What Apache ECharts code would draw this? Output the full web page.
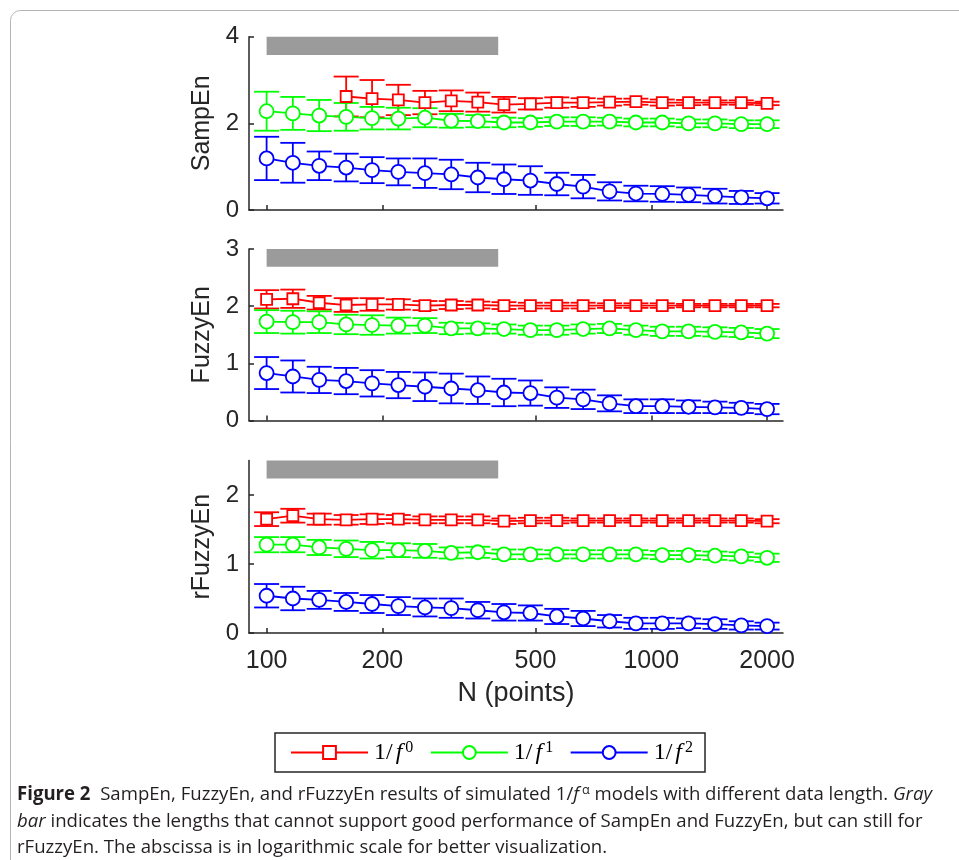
<!DOCTYPE html>
<html><head><meta charset="utf-8">
<script src="https://cdn.jsdelivr.net/npm/echarts@6/dist/echarts.min.js"></script>
<style>html,body{margin:0;padding:0;background:#fff;}#c{width:959px;height:860px;}</style>
</head><body><div id="c"></div>
<script>
// ---------- data ----------
const N = [100, 117, 137, 161, 188, 220, 258, 302, 354, 414, 485, 568, 665, 779, 912, 1068, 1250, 1464, 1714, 2000];
const xTickValues = [100, 200, 500, 1000, 2000];
const grayBarX = [100, 400];
const panelNames = ['SampEn', 'FuzzyEn', 'rFuzzyEn'];
const panelYMax = [4, 3, 2.5];
const panelYInterval = [2, 1, 1];
const panelYTicks = [[0, 2, 4], [0, 1, 2, 3], [0, 1, 2]];
const grayBarY = [[3.58, 4.0], [2.69, 3.0], [2.24, 2.5]];

// SampEn
const sampRed      = [null, null, null, 2.62, 2.57, 2.54, 2.48, 2.52, 2.49, 2.43, 2.45, 2.48, 2.48, 2.49, 2.50, 2.48, 2.48, 2.48, 2.48, 2.46];
const sampRedErr   = [null, null, null, 0.46, 0.43, 0.35, 0.27, 0.24, 0.22, 0.18, 0.13, 0.12, 0.10, 0.08, 0.07, 0.07, 0.06, 0.05, 0.05, 0.04];
const sampGreen    = [2.28, 2.23, 2.18, 2.15, 2.12, 2.11, 2.13, 2.06, 2.05, 2.02, 2.02, 2.04, 2.04, 2.04, 2.02, 2.02, 2.00, 2.00, 1.98, 1.98];
const sampGreenErr = [0.45, 0.38, 0.36, 0.32, 0.26, 0.25, 0.22, 0.16, 0.14, 0.11, 0.10, 0.10, 0.10, 0.09, 0.09, 0.09, 0.09, 0.09, 0.09, 0.09];
const sampBlue     = [1.19, 1.09, 1.02, 0.98, 0.92, 0.88, 0.85, 0.82, 0.75, 0.71, 0.68, 0.60, 0.54, 0.43, 0.38, 0.37, 0.35, 0.32, 0.29, 0.27];
const sampBlueErr  = [0.50, 0.46, 0.33, 0.32, 0.30, 0.31, 0.34, 0.34, 0.34, 0.34, 0.33, 0.26, 0.27, 0.21, 0.18, 0.18, 0.17, 0.17, 0.15, 0.12];
// FuzzyEn
const fuzzyRed      = [2.12, 2.13, 2.06, 2.02, 2.03, 2.03, 2.01, 2.02, 2.02, 2.01, 2.01, 2.01, 2.01, 2.01, 2.01, 2.01, 2.01, 2.01, 2.01, 2.01];
const fuzzyRedErr   = [0.16, 0.16, 0.12, 0.12, 0.11, 0.09, 0.08, 0.07, 0.06, 0.06, 0.05, 0.05, 0.05, 0.04, 0.04, 0.04, 0.03, 0.03, 0.03, 0.03];
const fuzzyGreen    = [1.73, 1.72, 1.72, 1.68, 1.67, 1.66, 1.66, 1.61, 1.61, 1.60, 1.58, 1.58, 1.60, 1.61, 1.58, 1.56, 1.56, 1.55, 1.54, 1.52];
const fuzzyGreenErr = [0.20, 0.20, 0.19, 0.17, 0.17, 0.14, 0.13, 0.10, 0.09, 0.08, 0.08, 0.08, 0.08, 0.08, 0.08, 0.08, 0.08, 0.08, 0.08, 0.08];
const fuzzyBlue     = [0.83, 0.77, 0.71, 0.69, 0.65, 0.62, 0.59, 0.56, 0.53, 0.49, 0.48, 0.40, 0.37, 0.30, 0.25, 0.25, 0.24, 0.23, 0.22, 0.20];
const fuzzyBlueErr  = [0.28, 0.28, 0.23, 0.23, 0.23, 0.23, 0.25, 0.26, 0.24, 0.24, 0.22, 0.18, 0.17, 0.14, 0.12, 0.12, 0.11, 0.10, 0.09, 0.09];
// rFuzzyEn
const rfuzzyRed      = [1.65, 1.70, 1.65, 1.64, 1.65, 1.65, 1.64, 1.64, 1.64, 1.62, 1.63, 1.63, 1.63, 1.63, 1.63, 1.63, 1.63, 1.63, 1.63, 1.62];
const rfuzzyRedErr   = [0.10, 0.10, 0.08, 0.07, 0.07, 0.06, 0.05, 0.05, 0.05, 0.04, 0.04, 0.04, 0.03, 0.03, 0.03, 0.03, 0.03, 0.03, 0.03, 0.03];
const rfuzzyGreen    = [1.28, 1.28, 1.24, 1.22, 1.20, 1.20, 1.19, 1.16, 1.17, 1.14, 1.14, 1.14, 1.14, 1.14, 1.14, 1.13, 1.13, 1.12, 1.11, 1.09];
const rfuzzyGreenErr = [0.11, 0.11, 0.11, 0.12, 0.12, 0.10, 0.10, 0.08, 0.08, 0.07, 0.07, 0.06, 0.06, 0.06, 0.06, 0.06, 0.06, 0.06, 0.06, 0.06];
const rfuzzyBlue     = [0.54, 0.50, 0.48, 0.45, 0.42, 0.39, 0.37, 0.36, 0.33, 0.30, 0.29, 0.24, 0.21, 0.17, 0.14, 0.14, 0.14, 0.13, 0.11, 0.10];
const rfuzzyBlueErr  = [0.17, 0.17, 0.13, 0.13, 0.13, 0.13, 0.13, 0.14, 0.12, 0.12, 0.11, 0.11, 0.11, 0.09, 0.08, 0.08, 0.07, 0.07, 0.06, 0.05];

const seriesNames = ['f0', 'f1', 'f2'];
const seriesColors = ['#ff0000', '#00ff00', '#0000ff'];
const seriesSymbols = ['rect', 'circle', 'circle'];
const panelData = [
  [[sampRed, sampRedErr], [sampGreen, sampGreenErr], [sampBlue, sampBlueErr]],
  [[fuzzyRed, fuzzyRedErr], [fuzzyGreen, fuzzyGreenErr], [fuzzyBlue, fuzzyBlueErr]],
  [[rfuzzyRed, rfuzzyRedErr], [rfuzzyGreen, rfuzzyGreenErr], [rfuzzyBlue, rfuzzyBlueErr]]
];

// ---------- layout ----------
const AX = '#262626';
const gridTops = [36.7, 249, 460.5];
const gridHeights = [173.3, 171.5, 172.5];
const axisFont = 'Liberation Sans, Arial, sans-serif';
const LW = 1.8;

function errItem(params, api) {
  const x = api.value(0), y = api.value(1), e = api.value(2);
  const p0 = api.coord([x, y - e]), p1 = api.coord([x, y + e]);
  const hw = 12.5;
  const style = { stroke: api.visual('color'), lineWidth: LW };
  return { type: 'group', children: [
    { type: 'line', shape: { x1: p0[0], y1: p0[1], x2: p1[0], y2: p1[1] }, style: style },
    { type: 'line', shape: { x1: p0[0] - hw, y1: p0[1], x2: p0[0] + hw, y2: p0[1] }, style: style },
    { type: 'line', shape: { x1: p1[0] - hw, y1: p1[1], x2: p1[0] + hw, y2: p1[1] }, style: style }
  ]};
}

const grids = [], xAxes = [], yAxes = [], series = [];
for (let p = 0; p < 3; p++) {
  grids.push({ left: 249, width: 534, top: gridTops[p], height: gridHeights[p] });
  xAxes.push({
    type: 'log', logBase: 10, gridIndex: p, min: 90, max: 2200,
    name: p === 2 ? 'N (points)' : '', nameLocation: 'middle', nameGap: 47,
    nameTextStyle: { fontSize: 27, color: AX, fontFamily: axisFont },
    axisLine: { show: true, lineStyle: { color: AX, width: 1.5 } },
    axisTick: { show: true, inside: true, length: 5, lineStyle: { color: AX, width: 1.5 }, customValues: xTickValues },
    axisLabel: { show: p === 2, customValues: xTickValues, fontSize: 25, color: AX, fontFamily: axisFont, margin: 16,
      formatter: v => String(Math.round(v)) },
    splitLine: { show: false }
  });
  yAxes.push({
    type: 'value', gridIndex: p, min: 0, max: panelYMax[p], interval: panelYInterval[p],
    name: panelNames[p], nameLocation: 'middle', nameGap: 23,
    nameTextStyle: { fontSize: 25, color: AX, fontFamily: axisFont },
    axisLine: { show: true, lineStyle: { color: AX, width: 1.5 } },
    axisTick: { show: true, inside: true, length: 5, lineStyle: { color: AX, width: 1.5 }, customValues: panelYTicks[p] },
    axisLabel: { customValues: panelYTicks[p], fontSize: 24, color: AX, fontFamily: axisFont, margin: 10 },
    splitLine: { show: false }
  });
  for (let s = 0; s < 3; s++) {
    const vals = panelData[p][s][0], errs = panelData[p][s][1];
    const pts = [], eb = [];
    N.forEach((n, i) => { if (vals[i] != null) { pts.push([n, vals[i]]); eb.push([n, vals[i], errs[i]]); } });
    series.push({
      type: 'custom', xAxisIndex: p, yAxisIndex: p, renderItem: errItem,
      itemStyle: { color: seriesColors[s] }, data: eb, encode: { x: 0, y: 1 }, silent: true, clip: false
    });
    const ls = {
      type: 'line', name: seriesNames[s], xAxisIndex: p, yAxisIndex: p, data: pts,
      symbol: seriesSymbols[s], symbolSize: s === 0 ? 11 : 14, showAllSymbol: true,
      lineStyle: { color: seriesColors[s], width: LW },
      itemStyle: { color: '#ffffff', borderColor: seriesColors[s], borderWidth: LW },
      animation: false, silent: true
    };
    if (s === 0) {
      ls.markArea = {
        silent: true,
        itemStyle: { color: '#9b9b9b', opacity: 1 },
        data: [[{ xAxis: grayBarX[0], yAxis: grayBarY[p][0] }, { xAxis: grayBarX[1], yAxis: grayBarY[p][1] }]]
      };
    }
    series.push(ls);
  }
}

// ---------- caption ----------
const capFam = '"Open Sans", sans-serif';
const capSize = 19;
const supSize = 13;
const capColor = '#231f20';
const line1 = [['Figure 2', 'bold'], ['  SampEn, FuzzyEn, and rFuzzyEn results of simulated 1/', 'n'], ['f', 'i'], ['α', 'sup'], [' models with different data length. ', 'n'], ['Gray', 'i']];
const line2 = [['bar', 'i'], [' indicates the lengths that cannot support good performance of SampEn and FuzzyEn, but can still for', 'n']];
const line3 = [['rFuzzyEn. The abscissa is in logarithmic scale for better visualization.', 'n']];
function fontOf(k) {
  if (k === 'bold') return 'bold ' + capSize + 'px ' + capFam;
  if (k === 'i') return 'italic ' + capSize + 'px ' + capFam;
  if (k === 'sup') return supSize + 'px ' + capFam;
  return capSize + 'px ' + capFam;
}
const ctx = document.createElement('canvas').getContext('2d');
function measure(segs) { let w = 0; segs.forEach(sg => { ctx.font = fontOf(sg[1]); w += ctx.measureText(sg[0]).width + (sg[1] === 'sup' ? 3 : 0); }); return w; }
const capScale = 915 / measure(line1);
const rich = {
  bold: { fontWeight: 'bold', fontSize: capSize, fontFamily: capFam, fill: capColor },
  i: { fontStyle: 'italic', fontSize: capSize, fontFamily: capFam, fill: capColor },
  sup: { fontSize: supSize, fontFamily: capFam, fill: capColor, padding: [0, 0, 10, 3] },
  n: { fontSize: capSize, fontFamily: capFam, fill: capColor }
};
function richText(segs) { return segs.map(sg => '{' + sg[1] + '|' + sg[0] + '}').join(''); }
const capY = [795, 822, 848];
const graphics = [
  { type: 'rect', shape: { x: 10.5, y: 10.5, width: 1200, height: 1200, r: 10 }, style: { fill: 'none', stroke: '#b5b5b5', lineWidth: 1 }, silent: true }
];
[line1, line2, line3].forEach((ln, k) => {
  graphics.push({ type: 'text', x: 17, y: capY[k], scaleX: capScale, silent: true,
    style: { text: richText(ln), rich: rich, fontSize: capSize, fontFamily: capFam, fill: capColor, verticalAlign: 'middle', align: 'left' } });
});

// ---------- legend ----------
const legFam = '"Liberation Serif", "DejaVu Serif", serif';
const legendLabels = { f0: '0', f1: '1', f2: '2' };

const chart = echarts.init(document.getElementById('c'), null, { renderer: 'canvas' });
chart.setOption({
  animation: false,
  backgroundColor: '#ffffff',
  grid: grids, xAxis: xAxes, yAxis: yAxes, series: series,
  graphic: graphics,
  legend: {
    data: seriesNames, left: 275, top: 733, orient: 'horizontal',
    borderColor: AX, borderWidth: 1.5, borderRadius: 0,
    padding: [6.5, 12, 6.5, 15], itemWidth: 77, itemHeight: 16, itemGap: 16.5,
    selectedMode: false,
    formatter: name => '{n|1/}{i|f}{s|' + legendLabels[name] + '}',
    textStyle: { color: '#000', fontFamily: legFam, fontSize: 24,
      rich: {
        n: { fontFamily: legFam, fontSize: 24, color: '#000', lineHeight: 16, padding: [0, 0, 0, 1] },
        i: { fontFamily: legFam, fontSize: 24, fontStyle: 'italic', color: '#000', lineHeight: 16, padding: [0, 2, 0, 3] },
        s: { fontFamily: legFam, fontSize: 16, color: '#000', padding: [0, 0, 10, 1], lineHeight: 16 }
      } }
  }
});
</script></body></html>
